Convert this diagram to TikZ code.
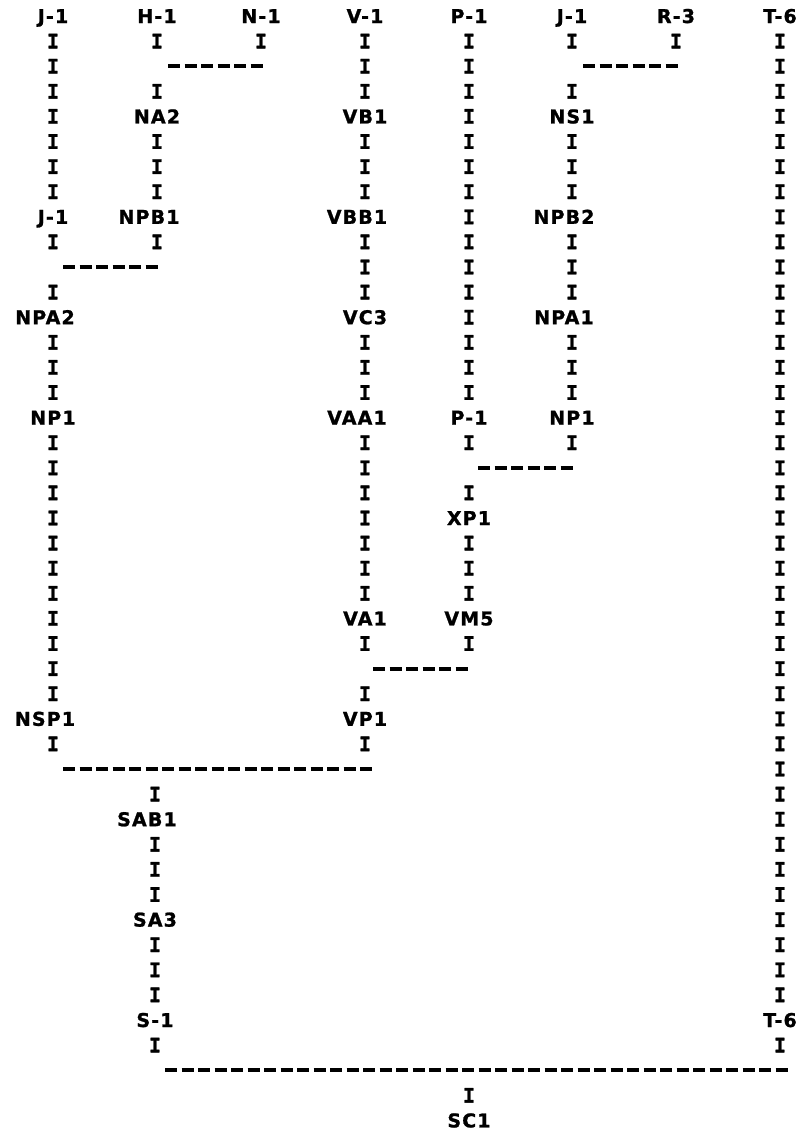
\documentclass[tikz,border=0pt]{standalone}
\usepackage{fontspec}
\newfontfamily\lblfont[LetterSpace=6,FakeBold=1.2]{DejaVu Sans Bold}
\newfontfamily\ifont[FakeBold=1.6]{DejaVu Sans Mono Bold}
\usetikzlibrary{decorations.markings}
\newcommand\IC[3]{\path[ichain] (#1 |- #2.center) -- (#1 |- #3.center);}
\begin{document}
\begin{tikzpicture}[x=1pt,y=-25.1pt,
  lbl/.style={font=\lblfont\fontsize{19}{19}\selectfont, inner sep=0pt, text height=14pt, text depth=0pt},
  ich/.style={font=\ifont\fontsize{20}{20}\selectfont, inner sep=0pt, text height=14.6pt, text depth=0pt},
  ichain/.style={decorate, decoration={markings, mark=between positions 25.1pt and -20pt step 25.1pt with {\node[ich]{I};}}},
  hline/.style={line width=4pt, dash pattern=on 12pt off 4.5pt}]
\useasboundingbox (0,-0.6375) rectangle (811,44.622);
% columns
\coordinate (cA) at (53,0);  \coordinate (cB) at (157,0);
\coordinate (cC) at (261,0); \coordinate (cD) at (365,0);
\coordinate (cE) at (469,0); \coordinate (cF) at (572,0);
\coordinate (cG) at (676,0); \coordinate (cH) at (780,0);
\coordinate (cS) at (155,0);
% labels
\node[lbl] (a0) at (53,0) {J-1};
\node[lbl] (b0) at (157,0) {H-1};
\node[lbl] (c0) at (261,0) {N-1};
\node[lbl] (d0) at (365,0) {V-1};
\node[lbl] (e0) at (469,0) {P-1};
\node[lbl] (f0) at (572,0) {J-1};
\node[lbl] (g0) at (676,0) {R-3};
\node[lbl] (h0) at (780,0) {T-6};
\node[lbl] (na2) at (157,4) {NA2};
\node[lbl] (vb1) at (365,4) {VB1};
\node[lbl] (ns1) at (572,4) {NS1};
\node[lbl] (a8) at (53,8) {J-1};
\node[lbl] (npb1) at (149,8) {NPB1};
\node[lbl] (vbb1) at (357,8) {VBB1};
\node[lbl] (npb2) at (564,8) {NPB2};
\node[lbl] (npa2) at (45,12) {NPA2};
\node[lbl] (vc3) at (365,12) {VC3};
\node[lbl] (npa1) at (564,12) {NPA1};
\node[lbl] (np1a) at (53,16) {NP1};
\node[lbl] (vaa1) at (357,16) {VAA1};
\node[lbl] (e16) at (469,16) {P-1};
\node[lbl] (np1f) at (572,16) {NP1};
\node[lbl] (xp1) at (469,20) {XP1};
\node[lbl] (va1) at (365,24) {VA1};
\node[lbl] (vm5) at (469,24) {VM5};
\node[lbl] (nsp1) at (45,28) {NSP1};
\node[lbl] (vp1) at (365,28) {VP1};
\node[lbl] (sab1) at (147,32) {SAB1};
\node[lbl] (sa3) at (155,36) {SA3};
\node[lbl] (s1) at (155,40) {S-1};
\node[lbl] (t6) at (780,40) {T-6};
\node[lbl] (sc1) at (469,44) {SC1};
% junctions
\coordinate (j2b) at (157,2);  \coordinate (j2c) at (261,2);
\coordinate (j2f) at (572,2);  \coordinate (j2g) at (676,2);
\coordinate (j10a) at (53,10); \coordinate (j10b) at (157,10);
\coordinate (j18e) at (469,18); \coordinate (j18f) at (572,18);
\coordinate (j26d) at (365,26); \coordinate (j26e) at (469,26);
\coordinate (j30a) at (53,30); \coordinate (j30d) at (365,30); \coordinate (j30s) at (155,30);
\coordinate (j42s) at (155,42); \coordinate (j42h) at (780,42); \coordinate (j42c) at (469,42);
% vertical I-chains
\IC{cA}{a0}{a8} \IC{cA}{a8}{j10a} \IC{cA}{j10a}{npa2} \IC{cA}{npa2}{np1a}
\IC{cA}{np1a}{nsp1} \IC{cA}{nsp1}{j30a}
\IC{cB}{b0}{j2b} \IC{cB}{j2b}{na2} \IC{cB}{na2}{npb1} \IC{cB}{npb1}{j10b}
\IC{cC}{c0}{j2c}
\IC{cD}{d0}{vb1} \IC{cD}{vb1}{vbb1} \IC{cD}{vbb1}{vc3} \IC{cD}{vc3}{vaa1}
\IC{cD}{vaa1}{va1} \IC{cD}{va1}{j26d} \IC{cD}{j26d}{vp1} \IC{cD}{vp1}{j30d}
\IC{cE}{e0}{e16} \IC{cE}{e16}{j18e} \IC{cE}{j18e}{xp1} \IC{cE}{xp1}{vm5} \IC{cE}{vm5}{j26e}
\IC{cF}{f0}{j2f} \IC{cF}{j2f}{ns1} \IC{cF}{ns1}{npb2} \IC{cF}{npb2}{npa1}
\IC{cF}{npa1}{np1f} \IC{cF}{np1f}{j18f}
\IC{cG}{g0}{j2g}
\IC{cH}{h0}{t6} \IC{cH}{t6}{j42h}
\IC{cS}{j30s}{sab1} \IC{cS}{sab1}{sa3} \IC{cS}{sa3}{s1} \IC{cS}{s1}{j42s}
\IC{cE}{j42c}{sc1}
% horizontal joins
\draw[hline] ([xshift=11pt]j2b) -- ([xshift=5pt]j2c);
\draw[hline] ([xshift=11pt]j2f) -- ([xshift=5pt]j2g);
\draw[hline] ([xshift=10pt]j10a) -- ([xshift=4pt]j10b);
\draw[hline] ([xshift=9pt]j18e) -- ([xshift=4pt]j18f);
\draw[hline] ([xshift=8pt]j26d) -- ([xshift=2pt]j26e);
\draw[hline] ([xshift=10pt]j30a) -- ([xshift=7pt]j30d);
\draw[hline] ([xshift=10pt]j42s) -- ([xshift=9pt]j42h);
\end{tikzpicture}
\end{document}
